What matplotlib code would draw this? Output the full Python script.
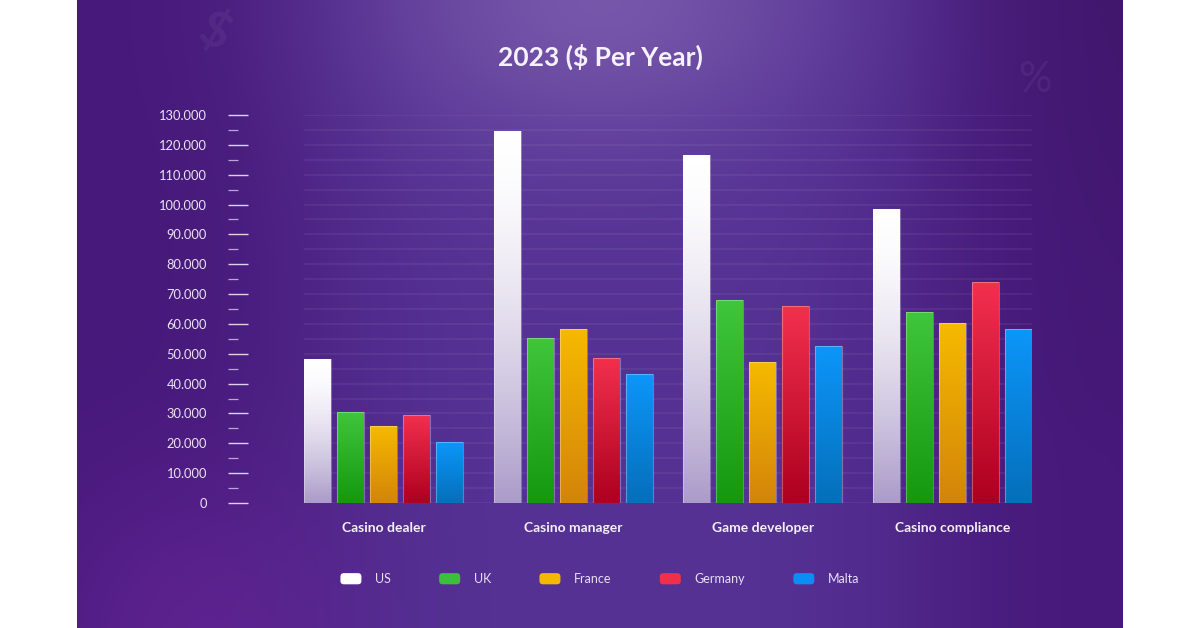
import numpy as np
import matplotlib
matplotlib.use("Agg")
import matplotlib.pyplot as plt
from matplotlib.patches import Patch, FancyBboxPatch
from matplotlib.legend_handler import HandlerPatch
from matplotlib.colors import to_rgb, LinearSegmentedColormap
from matplotlib.ticker import MultipleLocator, FuncFormatter

# data
jobs = ["Casino dealer", "Casino manager", "Game developer", "Casino compliance"]
countries = ["US", "UK", "France", "Germany", "Malta"]
us = [48200, 124600, 116600, 98500]
uk = [30500, 55300, 68000, 64000]
france = [25800, 58300, 47200, 60300]
germany = [29500, 48600, 66000, 74000]
malta = [20400, 43200, 52600, 58300]
series = [us, uk, france, germany, malta]

tops = ["#ffffff", "#40c63c", "#f6ba00", "#f2304e", "#0c96fa"]
bottoms = ["#ab9bc9", "#13980f", "#d3840a", "#ad001f", "#056fba"]
legend_cols = ["#ffffff", "#3cc03c", "#f5b800", "#f0304a", "#0a8ef5"]

plt.rcParams["font.family"] = ["Lato", "DejaVu Sans"]

W, H = 1200, 628
fig = plt.figure(figsize=(12, 6.28), dpi=100)
fig.patch.set_facecolor("white")

# purple background
bx0, bx1 = 77, 1123
bg = fig.add_axes([bx0 / W, 0, (bx1 - bx0) / W, 1])
bg.set_axis_off()
xx, yy = np.meshgrid(np.arange(bx0, bx1), np.arange(H))
img = np.zeros((H, bx1 - bx0, 3))
base = np.array(to_rgb("#47197b"))
mid = np.array(to_rgb("#58389a"))
glow = np.array(to_rgb("#8466b3"))
edge = np.array(to_rgb("#3c1563"))
low = np.array(to_rgb("#6a289c"))
band = np.exp(-((xx - 620) / 330.0) ** 4)
img[:] = base
img = img * (1 - band[..., None] * 0.8) + mid * (band[..., None] * 0.8)
right = np.clip((xx - 900) / 220.0, 0, 1) * np.clip(1 - yy / 500.0, 0, 1)
img = img * (1 - right[..., None] * 0.6) + edge * right[..., None] * 0.6
g = np.exp(-(((xx - 600) / 230.0) ** 2 + (yy / 150.0) ** 2))
img = img * (1 - g[..., None] * 0.7) + glow * g[..., None] * 0.7
bl = np.exp(-(((xx - 200) / 160.0) ** 2 + ((yy - 640) / 170.0) ** 2))
img = img * (1 - bl[..., None] * 0.6) + low * bl[..., None] * 0.6
bg.imshow(np.clip(img, 0, 1), aspect="auto", extent=[0, 1, 0, 1], origin="upper")
bg.set_xlim(0, 1)
bg.set_ylim(0, 1)
fig.text(215 / W, 1 - 32 / H, "$", fontsize=36, color="white", alpha=0.05,
         rotation=-25, ha="center", va="center", fontweight="bold")
fig.text(1035 / W, 1 - 80 / H, "%", fontsize=30, color="white", alpha=0.05,
         ha="center", va="center")

# main axes
y0, y1 = 503, 115
ax = fig.add_axes([304 / W, 1 - y0 / H, (1032 - 304) / W, (y0 - y1) / H])
ax.set_facecolor("none")
for s in ax.spines.values():
    s.set_visible(False)

n = len(countries)
step = 0.1737
width = 0.142
x = np.arange(len(jobs))
for i, vals in enumerate(series):
    bars = ax.bar(x + (i - (n - 1) / 2) * step, vals, width, facecolor="none",
                  edgecolor=(1, 1, 1, 0.3), linewidth=0.8, zorder=4)
    cmap = LinearSegmentedColormap.from_list("c%d" % i, [bottoms[i], tops[i]])
    for b in bars:
        bxl, bw, bh = b.get_x(), b.get_width(), b.get_height()
        grad = np.linspace(1, 0, 256).reshape(-1, 1)
        if i == 0:
            grad = 1 - (1 - grad) ** 1.6
        im = ax.imshow(grad, cmap=cmap, vmin=0, vmax=1, aspect="auto",
                       extent=[bxl, bxl + bw, 0, bh], zorder=3)
        im.set_clip_path(b)

ax.set_xlim(-0.42, 3.42)
ax.set_ylim(0, 130000)
ax.yaxis.set_major_locator(MultipleLocator(10000))
ax.yaxis.set_minor_locator(MultipleLocator(5000))
ax.grid(axis="y", which="both", color="white", alpha=0.06, linewidth=1.3, zorder=1)
ax.tick_params(axis="y", which="both", left=False, labelleft=False)
ax.set_xticks(x)
ax.set_xticklabels(jobs, fontsize=10, fontweight="bold", color="#f4f0fa")
ax.tick_params(axis="x", length=0, pad=13.5)

# separate tick column on the left
tax = fig.add_axes([228 / W, 1 - y0 / H, 20 / W, (y0 - y1) / H], sharey=ax)
tax.set_facecolor("none")
for s in tax.spines.values():
    s.set_visible(False)
tax.set_xticks([])
tax.yaxis.set_major_locator(MultipleLocator(10000))
tax.yaxis.set_minor_locator(MultipleLocator(5000))
tax.yaxis.set_major_formatter(FuncFormatter(lambda v, p: "0" if v == 0 else f"{int(v):,}".replace(",", ".")))
tax.tick_params(axis="y", which="major", direction="in", length=14.4, width=1.0,
                color="#ddd2ec", labelsize=9.3, labelcolor="#ebe4f4", pad=15)
tax.tick_params(axis="y", which="minor", direction="in", length=7.2, width=0.9,
                color="#b9a6d6")
tax.set_ylim(0, 130000)

# title
fig.text(0.5, 1 - 57 / H, "2023 ($ Per Year)", ha="center", va="center",
         fontsize=19, fontweight="bold", color="#f6f2fb")


class RoundHandler(HandlerPatch):
    def create_artists(self, legend, orig_handle, xdescent, ydescent, width,
                       height, fontsize, trans):
        p = FancyBboxPatch((-xdescent, -ydescent), width, height,
                           boxstyle="round,pad=0,rounding_size=2.5",
                           facecolor=orig_handle.get_facecolor(),
                           edgecolor="none", transform=trans)
        return [p]


handles = [Patch(facecolor=c) for c in legend_cols]
leg = fig.legend(handles, countries, loc="center", bbox_to_anchor=(0.5, 1 - 579 / H),
                 ncol=5, frameon=False, fontsize=9, handlelength=1.68, handleheight=1.0,
                 handletextpad=1.1, columnspacing=3.85,
                 handler_map={Patch: RoundHandler()})
for t in leg.get_texts():
    t.set_color("#e8e0f2")

fig.savefig("out.png", dpi=100, facecolor=fig.get_facecolor())
